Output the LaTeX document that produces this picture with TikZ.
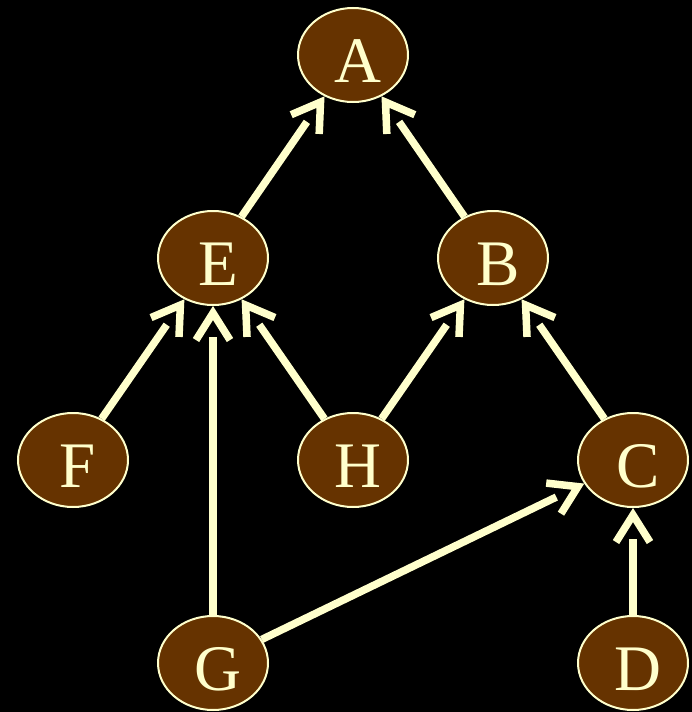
\documentclass[tikz,border=0pt]{standalone}
\usepackage{fontspec}
\setmainfont{Liberation Serif}
\usetikzlibrary{arrows.meta,shapes.geometric}
\definecolor{cream}{HTML}{FFFFCC}
\definecolor{brownfill}{HTML}{663300}
\begin{document}
\begin{tikzpicture}[x=1pt,y=-1pt,
  vert/.style={ellipse, draw=cream, line width=2pt, fill=brownfill, minimum width=110pt, minimum height=94pt, inner sep=0pt},
  lbl/.style={anchor=base, text=cream, font=\fontsize{65}{65}\selectfont, inner sep=0pt},
  shaft/.style={draw=cream, line width=7.5pt, shorten >=31pt},
  headtip/.style={draw=cream, line width=7.5pt, line cap=butt, dash pattern=on 0pt off 2000pt, -{Straight Barb[length=27pt,width=34pt]}}]
\fill[black] (0,0) rectangle (692,712);
\useasboundingbox (0,0) rectangle (692,712);
\node[vert] (A) at (353,55) {};
\node[vert] (E) at (213,258) {};
\node[vert] (B) at (493,258) {};
\node[vert] (F) at (73,460) {};
\node[vert] (H) at (353,460) {};
\node[vert] (C) at (633,460) {};
\node[vert] (G) at (213,663) {};
\node[vert] (D) at (633,663) {};
\node[lbl] (lA) at (358,82) {A};
\node[lbl] (lE) at (218,285) {E};
\node[lbl] (lB) at (498,285) {B};
\node[lbl] (lF) at (78,487) {F};
\node[lbl] (lH) at (358,487) {H};
\node[lbl] (lC) at (638,487) {C};
\node[lbl] (lG) at (218,690) {G};
\node[lbl] (lD) at (638,690) {D};
\foreach \s/\t in {E/A,B/A,F/E,G/E,H/E,H/B,C/B,G/C,D/C}{
  \draw[shaft] (\s) -- (\t);
  \draw[headtip] (\s) -- (\t);
}
\end{tikzpicture}
\end{document}
